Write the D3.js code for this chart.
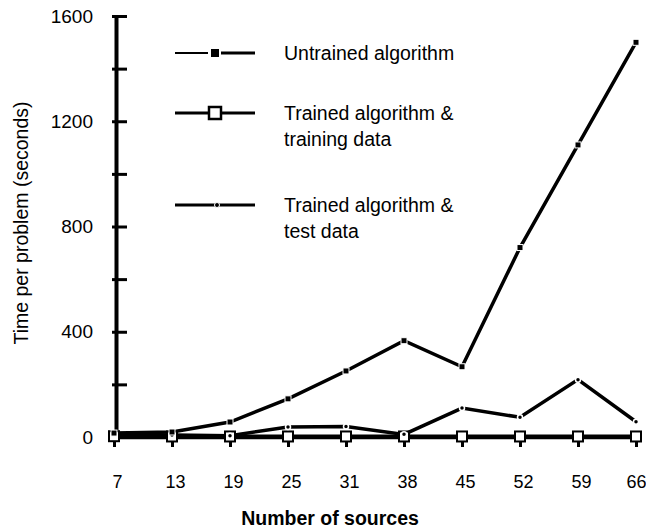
<!DOCTYPE html>
<html>
<head>
<meta charset="utf-8">
<script src="https://cdn.jsdelivr.net/npm/d3@7"></script>
<style>
  html, body { margin: 0; padding: 0; background: #fff; }
  svg { display: block; font-family: "Liberation Sans", Arial, Helvetica, sans-serif; }
</style>
</head>
<body>
<svg id="chart" width="646" height="531"></svg>
<script>
// ---- data ----
const categories = [7, 13, 19, 25, 31, 38, 45, 52, 59, 66];
const untrained = [15, 19, 57, 145, 251, 366, 267, 720, 1110, 1500];
const trainedTraining = [3, 2, 2, 2, 2, 2, 2, 2, 2, 2];
const trainedTest = [10, 8, 5, 38, 40, 10, 110, 75, 218, 58];
const yTicks = [0, 200, 400, 600, 800, 1000, 1200, 1400, 1600];
const yLabelTicks = [0, 400, 800, 1200, 1600];
const legendLabels = [
  ["Untrained algorithm"],
  ["Trained algorithm &", "training data"],
  ["Trained algorithm &", "test data"]
];

const svg = d3.select("#chart");
const x = d3.scalePoint().domain(categories).range([114, 636]);
const y = d3.scaleLinear().domain([0, 1600]).range([437, 16]);

// Y axis
const yAxis = svg.append("g").attr("transform", "translate(116,0)")
  .call(d3.axisLeft(y).tickValues(yTicks).tickSize(-11).tickSizeOuter(0).tickPadding(23)
    .tickFormat(d => yLabelTicks.includes(d) ? d : ""));
yAxis.select(".domain").attr("stroke", "#000").attr("stroke-width", 4);
yAxis.selectAll(".tick line").attr("x1", -4).attr("stroke-width", 3);
yAxis.selectAll(".tick text").attr("font-size", 19).attr("fill", "#000")
  .attr("font-family", "Liberation Sans, Arial, sans-serif");

// X axis
const xAxis = svg.append("g").attr("transform", "translate(0,437)")
  .call(d3.axisBottom(x).tickSize(10).tickSizeOuter(0).tickPadding(28));
xAxis.select(".domain").attr("stroke", "#000").attr("stroke-width", 3.5);
xAxis.selectAll(".tick line").attr("stroke-width", 3);
xAxis.selectAll(".tick text").attr("font-size", 18).attr("fill", "#000")
  .attr("dx", (d, i) => i === categories.length - 1 ? 0 : 3)
  .attr("font-family", "Liberation Sans, Arial, sans-serif");

// Axis titles
svg.append("text").attr("transform", "translate(28,223) rotate(-90)")
  .attr("text-anchor", "middle").attr("font-size", 19.5).text("Time per problem (seconds)");
svg.append("text").attr("x", 330).attr("y", 525).attr("text-anchor", "middle")
  .attr("font-size", 19.5).attr("font-weight", "bold").text("Number of sources");

const line = vals => d3.line().x((d, i) => x(categories[i])).y(d => y(d))(vals);

// Series lines
svg.append("path").attr("d", line(trainedTraining)).attr("fill", "none")
  .attr("stroke", "#000").attr("stroke-width", 4);
svg.append("path").attr("d", line(trainedTest)).attr("fill", "none")
  .attr("stroke", "#000").attr("stroke-width", 3.5);
svg.append("path").attr("d", line(untrained)).attr("fill", "none")
  .attr("stroke", "#000").attr("stroke-width", 3.5);

// Markers
svg.selectAll(".mTrain").data(trainedTraining).enter().append("rect")
  .attr("x", (d, i) => x(categories[i]) - 5).attr("y", d => y(d) - 5)
  .attr("width", 10).attr("height", 10)
  .attr("fill", "#fff").attr("stroke", "#000").attr("stroke-width", 2);
svg.selectAll(".mTest").data(trainedTest).enter().append("circle")
  .attr("cx", (d, i) => x(categories[i])).attr("cy", d => y(d)).attr("r", 2.5)
  .attr("fill", "#000").attr("stroke", "#fff").attr("stroke-width", 1.5);
svg.selectAll(".mUn").data(untrained).enter().append("rect")
  .attr("x", (d, i) => x(categories[i]) - 3).attr("y", d => y(d) - 3)
  .attr("width", 6).attr("height", 6)
  .attr("fill", "#000").attr("stroke", "#fff").attr("stroke-width", 1);

// Legend
const legendY = [53, 113, 205];
const lg = svg.append("g");
legendLabels.forEach((lines, k) => {
  const ly = legendY[k];
  if (k === 0) {
    lg.append("line").attr("x1", 175).attr("x2", 208).attr("y1", ly).attr("y2", ly)
      .attr("stroke", "#000").attr("stroke-width", 2);
    lg.append("line").attr("x1", 221).attr("x2", 255).attr("y1", ly).attr("y2", ly)
      .attr("stroke", "#000").attr("stroke-width", 3);
    lg.append("rect").attr("x", 211).attr("y", ly - 4).attr("width", 8).attr("height", 8)
      .attr("fill", "#000");
  } else if (k === 1) {
    lg.append("line").attr("x1", 175).attr("x2", 255).attr("y1", ly).attr("y2", ly)
      .attr("stroke", "#000").attr("stroke-width", 3);
    lg.append("rect").attr("x", 209).attr("y", ly - 6).attr("width", 12).attr("height", 12)
      .attr("fill", "#fff").attr("stroke", "#000").attr("stroke-width", 2.5);
  } else {
    lg.append("line").attr("x1", 175).attr("x2", 255).attr("y1", ly).attr("y2", ly)
      .attr("stroke", "#000").attr("stroke-width", 3);
    lg.append("circle").attr("cx", 217).attr("cy", ly).attr("r", 2.5)
      .attr("fill", "#000").attr("stroke", "#fff").attr("stroke-width", 1);
  }
  const t = lg.append("text").attr("x", 284).attr("y", ly + 7).attr("font-size", 19.5);
  lines.forEach((s, j) => {
    t.append("tspan").attr("x", 284).attr("dy", j === 0 ? 0 : 26).text(s);
  });
});
</script>
</body>
</html>
